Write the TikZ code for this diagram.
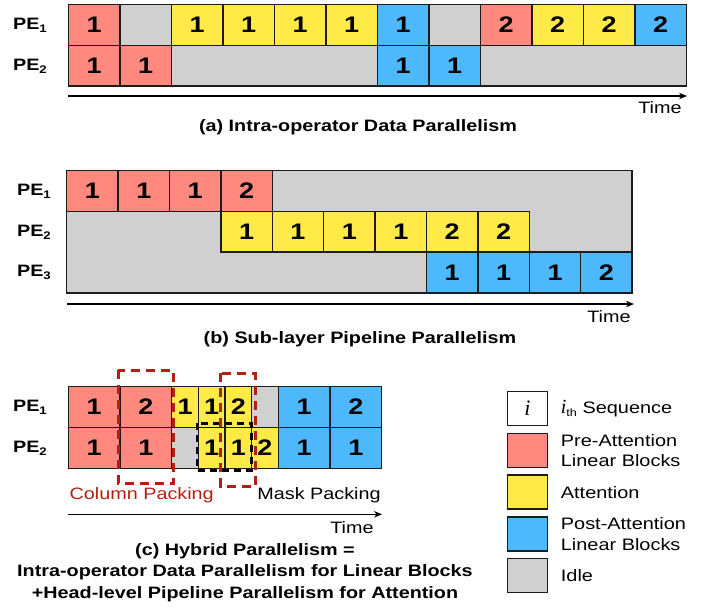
\documentclass[tikz,border=0pt]{standalone}
\usepackage{fontspec}
\setmainfont{Liberation Sans}[FakeStretch=1.2]
\newfontfamily\seqfont{Liberation Serif}
\usetikzlibrary{arrows.meta}

\definecolor{prered}{RGB}{255,137,126}
\definecolor{attyel}{RGB}{255,234,72}
\definecolor{postblue}{RGB}{77,184,252}
\definecolor{idlegray}{RGB}{208,208,208}
\definecolor{packred}{RGB}{178,32,18}
\definecolor{edgec}{RGB}{28,28,28}

\tikzset{
  blk/.style={draw=edgec, line width=1.4pt, inner sep=0pt, outer sep=0pt,
    anchor=north west, font=\bfseries\fontsize{22.5}{22.5}\selectfont},
  pre/.style={blk, fill=prered},
  att/.style={blk, fill=attyel},
  post/.style={blk, fill=postblue},
  idle/.style={blk, fill=idlegray},
  pelabel/.style={anchor=east, inner sep=0pt, font=\bfseries\fontsize{16.5}{16.5}\selectfont},
  timeaxis/.style={draw=black, line width=1.2pt, -{Stealth[length=8pt,width=6.5pt]}},
  timelabel/.style={inner sep=0pt, font=\fontsize{16.5}{16.5}\selectfont},
  capt/.style={inner sep=0pt, align=center, font=\bfseries\fontsize{16.5}{21.5}\selectfont},
  packbox/.style={draw=packred, line width=3pt, dash pattern=on 9pt off 6pt},
  maskbox/.style={draw=black, line width=2.5pt, dash pattern=on 7pt off 5pt},
  packtext/.style={inner sep=0pt, font=\fontsize{16.5}{16.5}\selectfont},
  legbox/.style={draw=edgec, line width=1.4pt, minimum width=40pt, minimum height=34pt,
    inner sep=0pt, outer sep=0pt, anchor=north west},
  legtext/.style={anchor=west, align=left, inner sep=0pt, font=\fontsize{16.6}{20.6}\selectfont},
}
\newcommand{\pesub}[1]{PE\raisebox{-0.35ex}{\fontsize{11}{11}\selectfont #1}}

\begin{document}
\begin{tikzpicture}[x=1pt,y=-1pt]
\useasboundingbox (0,0) rectangle (706,606);

% ---------------- (a) intra-operator data parallelism ----------------
\foreach \c/\s/\t/\n in {0/pre/1/1,1/idle/{}/1,2/att/1/1,3/att/1/1,4/att/1/1,5/att/1/1,
    6/post/1/1,7/idle/{}/1,8/pre/2/1,9/att/2/1,10/att/2/1,11/post/2/1}
  \node[\s, minimum width=\n*51.5pt, minimum height=40.75pt] (aA\c) at ({68.3+51.5*\c},4.5) {\t};
\foreach \c/\s/\t/\n in {0/pre/1/1,1/pre/1/1,2/idle/{}/4,6/post/1/1,7/post/1/1,8/idle/{}/4}
  \node[\s, minimum width=\n*51.5pt, minimum height=40.75pt] (aB\c) at ({68.3+51.5*\c},45.25) {\t};
\node[pelabel] (aPE1) at (47,25) {\pesub{1}};
\node[pelabel] (aPE2) at (47,66) {\pesub{2}};
\coordinate (aT0) at (68.3,96);
\coordinate (aT1) at (687,96);
\draw[timeaxis] (aT0) -- (aT1);
\node[timelabel] (aTime) at (660,108) {Time};
\node[capt] (aCap) at (358,127) {(a) Intra-operator Data Parallelism};

% ---------------- (b) sub-layer pipeline parallelism ----------------
\node[idle, minimum width=565.4pt, minimum height=122.1pt] (bIdle) at (66.7,170.7) {};
\foreach \c/\t in {0/1,1/1,2/1,3/2}
  \node[pre, minimum width=51.4pt, minimum height=40.7pt] (bA\c) at ({66.7+51.4*\c},170.7) {\t};
\foreach \c/\t in {3/1,4/1,5/1,6/1,7/2,8/2}
  \node[att, minimum width=51.4pt, minimum height=40.7pt] (bB\c) at ({66.7+51.4*\c},211.4) {\t};
\foreach \c/\t in {7/1,8/1,9/1,10/2}
  \node[post, minimum width=51.4pt, minimum height=40.7pt] (bC\c) at ({66.7+51.4*\c},252.1) {\t};
\node[pelabel] (bPE1) at (51,191) {\pesub{1}};
\node[pelabel] (bPE2) at (51,232) {\pesub{2}};
\node[pelabel] (bPE3) at (51,272.5) {\pesub{3}};
\coordinate (bT0) at (66.7,304);
\coordinate (bT1) at (634,304);
\draw[timeaxis] (bT0) -- (bT1);
\node[timelabel] (bTime) at (609,317) {Time};
\node[capt] (bCap) at (360,339) {(b) Sub-layer Pipeline Parallelism};

% ---------------- (c) hybrid parallelism ----------------
\foreach \x/\s/\t/\w [count=\i] in {68.3/pre/1/51.7,120/pre/2/51.7,171.7/att/1/26.65,198.35/att/1/26.65,
    225/att/2/26.65,251.65/idle/{}/26.65,278.3/post/1/51.7,330/post/2/51.7}
  \node[\s, minimum width=\w pt, minimum height=40.8pt] (cA\i) at (\x,386.7) {\t};
\foreach \x/\s/\t/\w [count=\i] in {68.3/pre/1/51.7,120/pre/1/51.7,171.7/idle/{}/26.65,198.35/att/1/26.65,
    225/att/1/26.65,251.65/att/2/26.65,278.3/post/1/51.7,330/post/1/51.7}
  \node[\s, minimum width=\w pt, minimum height=40.8pt] (cB\i) at (\x,427.5) {\t};
\node[pelabel] (cPE1) at (47,407) {\pesub{1}};
\node[pelabel] (cPE2) at (47,448) {\pesub{2}};
% packing highlights
\draw[maskbox] (197.2,423.3) rectangle (251.7,470.3);
\draw[packbox] (118.3,370) rectangle (173.3,483.3);
\draw[packbox] (220.5,373.3) rectangle (255,486.7);
\node[packtext, text=packred] (cColPack) at (141.7,495) {Column Packing};
\node[packtext] (cMaskPack) at (319,495) {Mask Packing};
\coordinate (cT0) at (68.3,514.3);
\coordinate (cT1) at (382,514.3);
\draw[timeaxis] (cT0) -- (cT1);
\node[timelabel] (cTime) at (352,528) {Time};
\node[capt] (cCap) at (245,572.5) {(c) Hybrid Parallelism =\\
  Intra-operator Data Parallelism for Linear Blocks\\
  +Head-level Pipeline Parallelism for Attention};

% ---------------- legend ----------------
\node[legbox, fill=white, font=\seqfont\itshape\fontsize{22}{22}\selectfont] (lgSeq) at (507.3,391.7) {i};
\node[legbox, fill=prered] (lgPre) at (507.3,433.3) {};
\node[legbox, fill=attyel] (lgAtt) at (507.3,475.1) {};
\node[legbox, fill=postblue] (lgPost) at (507.3,516.9) {};
\node[legbox, fill=idlegray] (lgIdle) at (507.3,558.7) {};
\node[legtext] (lgSeqT) at (560.7,408.6)
  {{\seqfont\itshape\fontsize{20}{20}\selectfont i}\raisebox{-0.3ex}{\fontsize{10.5}{10.5}\selectfont th} Sequence};
\node[legtext] (lgPreT) at (560.7,450.4) {Pre-Attention\\Linear Blocks};
\node[legtext] (lgAttT) at (560.7,492.2) {Attention};
\node[legtext] (lgPostT) at (560.7,534) {Post-Attention\\Linear Blocks};
\node[legtext] (lgIdleT) at (560.7,575.8) {Idle};
\end{tikzpicture}
\end{document}
